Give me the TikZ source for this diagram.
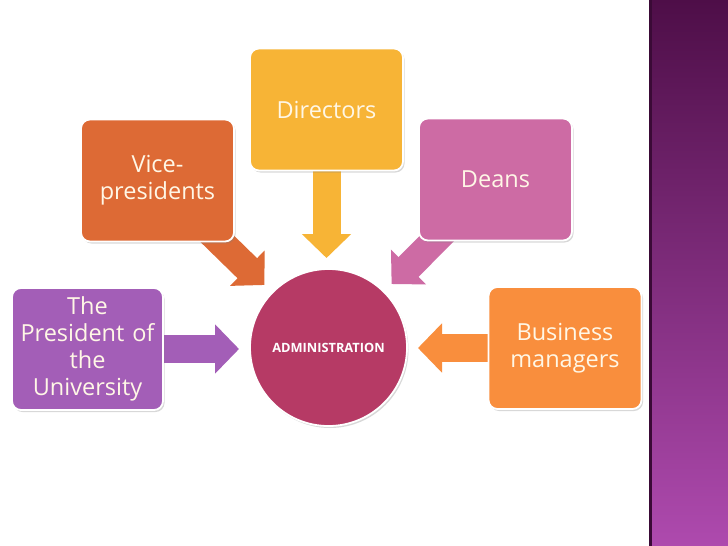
\documentclass[tikz,border=0pt]{standalone}
\usepackage{fontspec}
\setmainfont{Open Sans}
\usetikzlibrary{arrows.meta,shadows,backgrounds}
\definecolor{cpres}{HTML}{A35EB7}
\definecolor{cvp}{HTML}{DD6A35}
\definecolor{cdir}{HTML}{F7B436}
\definecolor{cdean}{HTML}{CD6BA4}
\definecolor{cbus}{HTML}{F98E3D}
\definecolor{cadm}{HTML}{B63A65}
\definecolor{stripTop}{HTML}{4E0E48}
\definecolor{stripBot}{HTML}{AE4AAE}
\definecolor{stripEdge}{HTML}{3A0A36}
\definecolor{txt}{HTML}{FFF7E6}
\begin{document}
\begin{tikzpicture}[x=1pt,y=-1pt,
  box/.style={draw=white, line width=1.8pt, rounded corners=9pt,
    minimum width=153pt, minimum height=122pt, text width=148pt,
    align=center, font=\fontsize{23.5}{27}\selectfont, text=txt,
    inner sep=0pt, outer sep=0pt,
    drop shadow={shadow xshift=1.5pt, shadow yshift=-2pt, opacity=0.3, fill=gray}},
  hub/.style={circle, draw=white, line width=1.8pt, minimum size=157pt,
    fill=cadm, text=white, inner sep=0pt, outer sep=0pt,
    font=\bfseries\fontsize{12.8}{15}\selectfont,
    drop shadow={shadow xshift=1.5pt, shadow yshift=-2pt, opacity=0.3, fill=gray}},
  arr/.style={line width=28pt, -{Triangle[width=48pt,length=24pt]}, shorten >=11pt}]
\useasboundingbox (0,0) rectangle (728,546);
\begin{scope}[on background layer]
  \fill[white] (0,0) rectangle (728,546);
  \shade[top color=stripTop, bottom color=stripBot] (649,0) rectangle (728,546);
  \fill[stripEdge] (649,0) rectangle (652,546);
\end{scope}
\node[box, fill=cdir]  (dir)  at (326.5,109.5) {Directors};
\node[box, fill=cvp]   (vp)   at (157.5,180.5) {Vice-\\presidents};
\node[box, fill=cdean] (dean) at (495.5,179.5) {Deans};
\node[box, fill=cpres, minimum width=151pt] (pres) at (87.5,349) {The\\President of\\the\\University};
\node[box, fill=cbus]  (bus)  at (565,348) {Business\\managers};
\node[hub] (adm) at (328.5,347.5) {ADMINISTRATION};
\begin{scope}[on background layer]
  \draw[arr, cdir]  (dir.center) -- (dir.center |- adm.north);
  \draw[arr, cvp]   (vp.center) -- (adm);
  \draw[arr, cdean] (dean.center) -- (adm);
  \draw[arr, cpres] (pres.center) -- (pres.center -| adm.west);
  \draw[arr, cbus]  (bus.center) -- (bus.center -| adm.east);
\end{scope}
\end{tikzpicture}
\end{document}
